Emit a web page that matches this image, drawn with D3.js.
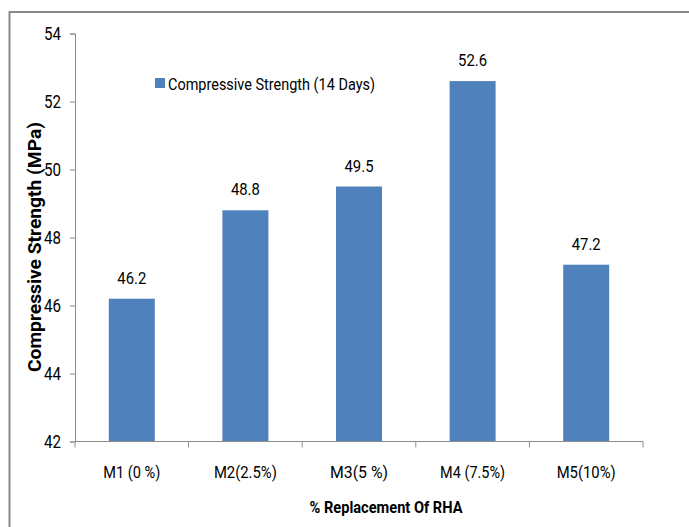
<!DOCTYPE html>
<html>
<head>
<meta charset="utf-8">
<script src="https://cdn.jsdelivr.net/npm/d3@7/dist/d3.min.js"></script>
<style>
  html, body { margin: 0; padding: 0; background: #fff; }
  svg { display: block; }
  text { font-family: "Roboto", "Liberation Sans", sans-serif; fill: #000; }
</style>
</head>
<body>
<svg id="chart" width="689" height="527"></svg>
<script>
// Compressive strength after 14 days for each RHA replacement mix
const categories = ["M1 (0 %)", "M2(2.5%)", "M3(5 %)", "M4 (7.5%)", "M5(10%)"];
const strength14 = [46.2, 48.8, 49.5, 52.6, 47.2];
const yTicks = [42, 44, 46, 48, 50, 52, 54];
const seriesName = "Compressive Strength (14 Days)";
const xTitle = "% Replacement Of RHA";
const yTitle = "Compressive Strength (MPa)";

const svg = d3.select("#chart");
const barColor = "#4F81BD";
const axisColor = "#8c8c8c";

// condense text to a target width, giving a narrow face look
function fit(sel, w) {
  sel.attr("textLength", w).attr("lengthAdjust", "spacingAndGlyphs");
}

// outer chart frame (left and top edges visible)
svg.append("path")
  .attr("d", "M9.5,527 V12 H689")
  .attr("fill", "none")
  .attr("stroke", "#888888")
  .attr("stroke-width", 2);

const plot = { left: 75, right: 643, top: 33.5, bottom: 441.5 };

const x = d3.scaleBand()
  .domain(categories)
  .range([plot.left, plot.right])
  .paddingInner(0.595)
  .paddingOuter(0.2975);

const y = d3.scaleLinear()
  .domain([42, 54])
  .range([plot.bottom, plot.top]);

// y axis
const yAxis = d3.axisLeft(y).tickValues(yTicks).tickSize(5).tickPadding(9).tickFormat(d3.format("d"));
const gy = svg.append("g").attr("transform", `translate(${plot.left},0)`).call(yAxis);
gy.attr("font-family", null).attr("font-size", null);
gy.select(".domain").attr("stroke", axisColor);
gy.selectAll(".tick line").attr("stroke", axisColor);
gy.selectAll(".tick text").attr("font-size", 18).attr("fill", "#000").attr("dy", "0.36em")
  .call(fit, 17);

// bars
svg.append("g").selectAll("rect")
  .data(strength14)
  .join("rect")
  .attr("x", (d, i) => x(categories[i]))
  .attr("width", x.bandwidth())
  .attr("y", d => y(d))
  .attr("height", d => y(42) - y(d))
  .attr("fill", barColor);

// x axis with ticks between categories
const gx = svg.append("g").attr("transform", `translate(0,${plot.bottom})`);
gx.append("line")
  .attr("x1", plot.left).attr("x2", plot.right)
  .attr("stroke", axisColor);
const bounds = d3.range(categories.length + 1).map(i => plot.left + i * (plot.right - plot.left) / categories.length);
gx.selectAll("line.sep")
  .data(bounds)
  .join("line")
  .attr("class", "sep")
  .attr("x1", d => d).attr("x2", d => d)
  .attr("y1", 0).attr("y2", 6)
  .attr("stroke", axisColor);
const labelWidths = [57, 63, 58, 65, 59];
gx.selectAll("text")
  .data(categories)
  .join("text")
  .attr("x", d => x(d) + x.bandwidth() / 2)
  .attr("y", 36)
  .attr("text-anchor", "middle")
  .attr("font-size", 17)
  .attr("textLength", (d, i) => labelWidths[i])
  .attr("lengthAdjust", "spacingAndGlyphs")
  .text(d => d);

// value labels
svg.append("g").selectAll("text")
  .data(strength14)
  .join("text")
  .attr("x", (d, i) => x(categories[i]) + x.bandwidth() / 2)
  .attr("y", d => y(d) - 15)
  .attr("text-anchor", "middle")
  .attr("font-size", 17)
  .call(fit, 29)
  .text(d => d3.format(".1f")(d));

// axis titles
svg.append("text")
  .attr("x", 386).attr("y", 513)
  .attr("text-anchor", "middle")
  .attr("font-size", 17)
  .attr("font-weight", "bold")
  .call(fit, 153)
  .text(xTitle);

svg.append("text")
  .attr("transform", "translate(41,247) rotate(-90)")
  .attr("text-anchor", "middle")
  .attr("font-size", 18)
  .attr("font-weight", "bold")
  .call(fit, 250)
  .text(yTitle);

// legend
const lg = svg.append("g").attr("transform", "translate(155,78)");
lg.append("rect").attr("width", 10).attr("height", 10).attr("fill", barColor);
lg.append("text").attr("x", 13).attr("y", 11.5).attr("font-size", 17).call(fit, 207).text(seriesName);
</script>
</body>
</html>
